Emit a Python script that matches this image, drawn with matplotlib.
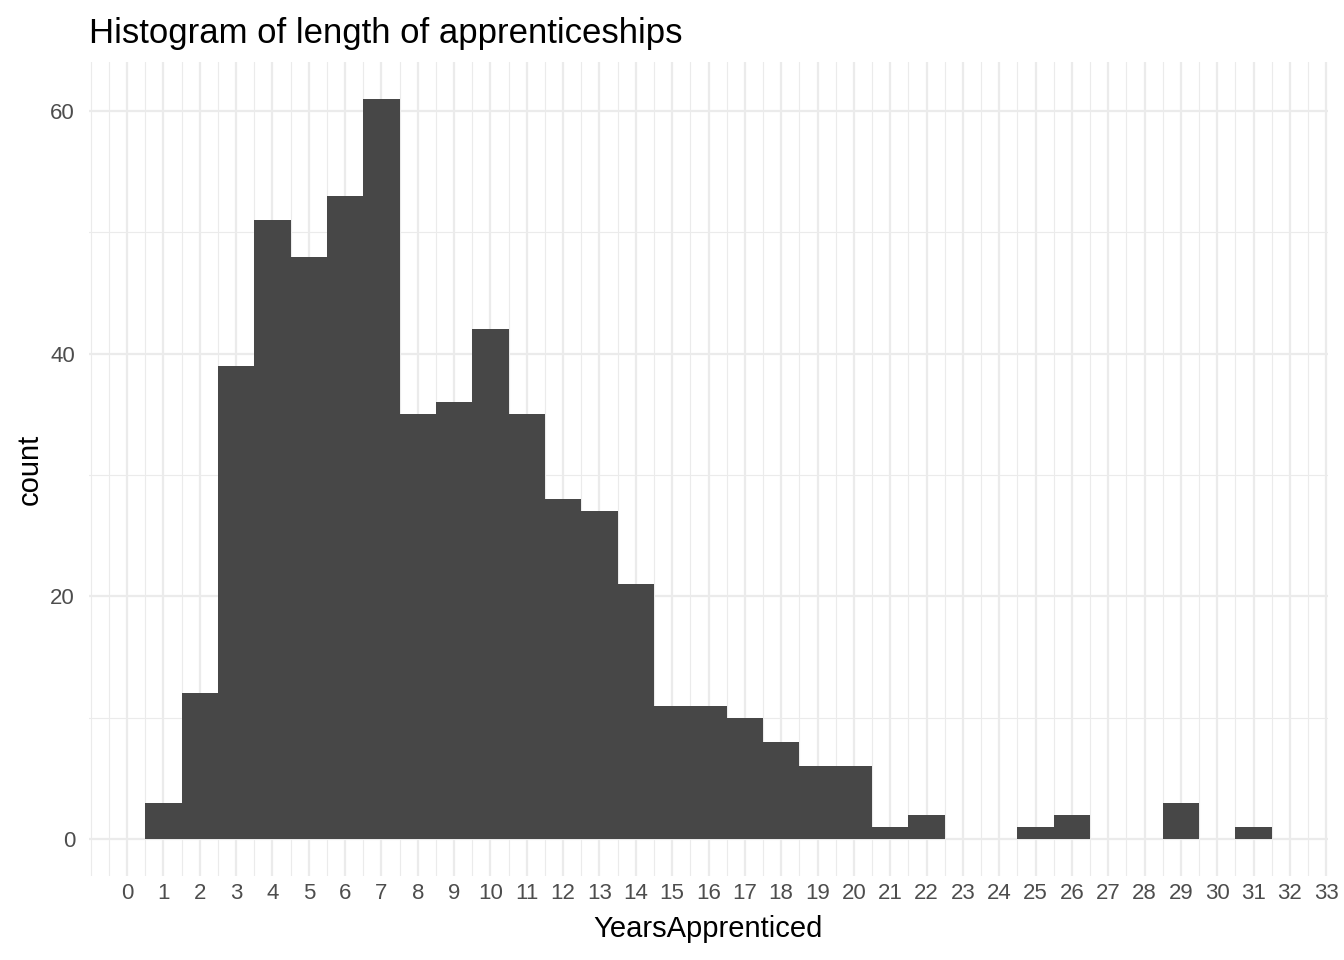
import numpy as np
import matplotlib.pyplot as plt
from matplotlib.ticker import MultipleLocator

plt.rcParams['font.family'] = ['Liberation Sans', 'DejaVu Sans']

# bin centres (years) and counts
years = list(range(1, 32))
counts = [3, 12, 39, 51, 48, 53, 61, 35, 36, 42, 35, 28, 27, 21, 11,
          11, 10, 8, 6, 6, 1, 2, 0, 0, 1, 2, 0, 0, 3, 0, 1]
xticks = list(range(0, 34))
yticks = [0, 20, 40, 60]

fig = plt.figure(figsize=(13.44, 9.6), dpi=100)
ax = fig.add_axes([89 / 1344, 1 - 876 / 960, (1328 - 89) / 1344, (876 - 62) / 960])

ax.bar(years, counts, width=1.0, color='#474747', linewidth=0, zorder=3)

ax.set_xlim(-1.05, 33.05)
ax.set_ylim(-3.05, 64.05)
ax.set_xticks(xticks)
ax.set_yticks(yticks)
ax.xaxis.set_minor_locator(MultipleLocator(0.5))
ax.yaxis.set_minor_locator(MultipleLocator(10))

ax.grid(which='major', color='#EBEBEB', linewidth=1.6, zorder=0)
ax.grid(which='minor', color='#EBEBEB', linewidth=0.8, zorder=0)
ax.set_axisbelow(True)
for s in ax.spines.values():
    s.set_visible(False)
ax.tick_params(which='both', length=0)
ax.tick_params(axis='both', labelsize=16, labelcolor='#4D4D4D')
ax.tick_params(axis='x', pad=5)
ax.tick_params(axis='y', pad=10)

ax.set_xlabel('YearsApprenticed', fontsize=21, color='black', labelpad=8)
ax.set_ylabel('count', fontsize=21, color='black', labelpad=5)
ax.set_title('Histogram of length of apprenticeships', loc='left',
             fontsize=25, color='black', pad=14)

fig.savefig('out.png', dpi=100)
